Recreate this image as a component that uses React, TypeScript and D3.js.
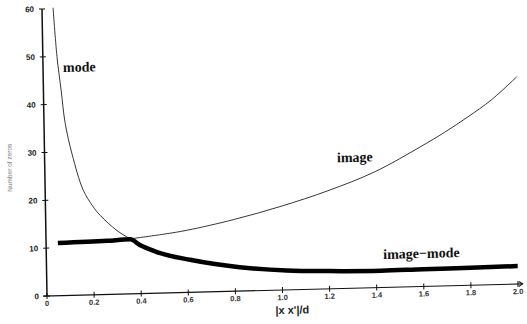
import React from "react";
import * as d3 from "d3";

const W = 527;
const H = 324;

// y axis ticks and x axis ticks
const yTicks = [0, 10, 20, 30, 40, 50, 60];
const yTickLabels = ["0", "10", "20", "30", "40", "50", "60"];
const xTicks = [0, 0.2, 0.4, 0.6, 0.8, 1.0, 1.2, 1.4, 1.6, 1.8, 2.0];
const xTickLabels = ["0", "0.2", "0.4", "0.6", "0.8", "1.0", "1.2", "1.4", "1.6", "1.8", "2.0"];

// "mode" curve (thin)
const modeX = [0.047, 0.06, 0.075, 0.09, 0.117, 0.161, 0.2, 0.231, 0.302, 0.357];
const modeY = [60.2, 50.0, 43.0, 36.0, 29.5, 22.0, 18.6, 16.6, 13.3, 11.5];

// "image" curve (thin)
const imageX = [0.357, 0.5, 0.6, 0.8, 1.0, 1.2, 1.4, 1.6, 1.7, 1.8, 1.9, 2.01];
const imageY = [11.5, 12.3, 13.0, 15.0, 17.5, 20.5, 24.2, 29.3, 32.1, 35.2, 38.6, 43.3];

// "image-mode" curve (thick)
const imModeX = [0.05, 0.26, 0.357, 0.4, 0.47, 0.61, 0.82, 1.02, 1.2, 1.42, 1.6, 1.8, 2.0];
const imModeY = [11.0, 11.2, 11.4, 10.1, 8.6, 6.8, 5.0, 4.05, 3.7, 3.5, 3.6, 3.65, 3.75];

// curve labels
const labelText = ["mode", "image", "image\u2212mode"];
const labelX = [0.085, 1.241, 1.43];
const labelY = [46.7, 26.4, 5.94];

export default function App() {
  const x = d3.scaleLinear().domain([0, 2]).range([0, 471]);
  const y = d3.scaleLinear().domain([0, 60]).range([0, -287]);

  const mk = (xs: number[], ys: number[], curve: d3.CurveFactory) =>
    d3
      .line<number>()
      .x((_, i) => x(xs[i]))
      .y((_, i) => y(ys[i]))
      .curve(curve)(xs.map((_, i) => i)) || "";

  const modePath = mk(modeX, modeY, d3.curveCatmullRom.alpha(0.5));
  const imagePath = mk(imageX, imageY, d3.curveCatmullRom.alpha(0.5));
  const imModePath = mk(imModeX, imModeY, d3.curveMonotoneX);

  return (
    <svg
      width={W}
      height={H}
      style={{ position: "absolute", left: 0, top: 0, background: "#fff" }}
    >
      <g transform="matrix(1,-0.02548,0.01742,1,47,296)">
        {/* axes */}
        <line x1={0} y1={0} x2={0} y2={y(60)} stroke="#111" strokeWidth={1.5} />
        <line x1={-4} y1={0} x2={x(2.02)} y2={0} stroke="#111" strokeWidth={1.1} />
        <path d={`M${x(2.02) - 4},-2.5 L${x(2.02)},0 L${x(2.02) - 4},2.5`} fill="none" stroke="#111" strokeWidth={1} />
        {yTicks.map((t, i) => (
          <g key={"y" + i}>
            <line x1={-3} x2={3} y1={y(t)} y2={y(t)} stroke="#111" strokeWidth={1} />
            <text
              x={-8}
              y={y(t)}
              dy="0.35em"
              textAnchor="end"
              fontFamily="Liberation Sans, Arial, sans-serif"
              fontWeight="bold"
              fontSize={8}
              fill="#222"
            >
              {yTickLabels[i]}
            </text>
          </g>
        ))}
        {xTicks.map((t, i) => (
          <g key={"x" + i}>
            <line x1={x(t)} x2={x(t)} y1={-3} y2={3} stroke="#111" strokeWidth={1} />
            <text
              x={x(t)}
              y={10}
              textAnchor="middle"
              fontFamily="Liberation Sans, Arial, sans-serif"
              fontWeight="bold"
              fontSize={7.5}
              fill="#333"
            >
              {xTickLabels[i]}
            </text>
          </g>
        ))}
        <text
          x={x(1.04)}
          y={24}
          textAnchor="middle"
          fontFamily="Liberation Sans, Arial, sans-serif"
          fontWeight="bold"
          fontSize={11}
          fill="#222"
        >
          {"|x  x'|/d"}
        </text>
        <text
          transform={`translate(-33,${y(27)}) rotate(-90)`}
          textAnchor="middle"
          fontFamily="Liberation Sans, Arial, sans-serif"
          fontSize={6.5}
          fill="#777"
        >
          Number of zeros
        </text>

        {/* curves */}
        <path d={modePath} fill="none" stroke="#222" strokeWidth={0.9} />
        <path d={imagePath} fill="none" stroke="#222" strokeWidth={0.9} />
        <path d={imModePath} fill="none" stroke="#000" strokeWidth={4.5} strokeLinecap="butt" />

        {labelText.map((t, i) => (
          <text
            key={"l" + i}
            x={x(labelX[i])}
            y={y(labelY[i])}
            fontFamily="Liberation Serif, Times New Roman, serif"
            fontWeight="bold"
            fontSize={14}
            fill="#111"
          >
            {t}
          </text>
        ))}
      </g>
    </svg>
  );
}
